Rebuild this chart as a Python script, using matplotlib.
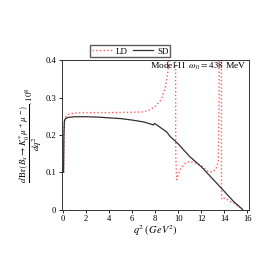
import numpy as np
import matplotlib
matplotlib.use("Agg")
import matplotlib.pyplot as plt

plt.rcParams["font.family"] = ["Liberation Serif", "DejaVu Serif"]
plt.rcParams["mathtext.fontset"] = "stix"

# short-distance curve
sd_q2 = [0.03, 0.06, 0.1, 0.2, 0.4, 1.0, 2.0, 3.0, 4.0, 5.0, 6.0, 7.0, 7.85,
         7.95, 8.5, 9.0, 9.3, 10.0, 11.0, 12.0, 13.0, 14.0, 14.8, 15.5, 15.6]
sd_val = [0.100, 0.200, 0.238, 0.244, 0.247, 0.249, 0.249, 0.248, 0.246, 0.244,
          0.240, 0.235, 0.227, 0.231, 0.219, 0.208, 0.196, 0.176, 0.142, 0.115,
          0.082, 0.049, 0.022, 0.003, 0.0]

# long-distance curve (resonance peaks go off the top)
ld_q2 = [0.03, 0.06, 0.1, 0.2, 0.5, 1.0, 2.0, 4.0, 6.0, 7.0, 7.5, 8.0, 8.5, 8.9,
         9.1, 9.25, 9.5, 9.72, 9.78, 9.86, 10.14, 10.6, 11.0, 11.6, 12.2, 12.6,
         13.0, 13.3, 13.48, 13.55, 13.6, 13.72, 13.76, 13.8, 14.06, 14.5, 14.93,
         15.2, 15.5, 15.6]
ld_val = [0.100, 0.210, 0.235, 0.248, 0.256, 0.259, 0.260, 0.260, 0.261, 0.262,
          0.267, 0.277, 0.294, 0.330, 0.370, 0.420, 1.5, 1.5, 0.15, 0.080,
          0.107, 0.124, 0.129, 0.124, 0.114, 0.102, 0.101, 0.110, 0.130, 0.300,
          1.5, 1.5, 0.050, 0.027, 0.031, 0.022, 0.016, 0.009, 0.003, 0.0]

x_ticks = [0, 2, 4, 6, 8, 10, 12, 14, 16]
y_ticks = [0, 0.1, 0.2, 0.3, 0.4]
y_tick_labels = ["0", "0.1", "0.2", "0.3", "0.4"]

fig = plt.figure(figsize=(2.73, 2.73), dpi=100)
ax = fig.add_axes([0.227, 0.231, 0.685, 0.549])

ax.plot(ld_q2, ld_val, color="#ff5c5c", linestyle=":", linewidth=1.0, label="LD")
ax.plot(sd_q2, sd_val, color="#303030", linestyle="-", linewidth=0.9, label="SD")

ax.set_xlim(-0.11, 16.15)
ax.set_ylim(-0.001, 0.401)
ax.set_xticks(x_ticks)
ax.set_yticks(y_ticks)
ax.set_yticklabels(y_tick_labels)
ax.tick_params(direction="out", length=2.5, width=0.6, labelsize=6.2, pad=1.5,
               top=False, right=False)
for s in ax.spines.values():
    s.set_linewidth(0.7)
    s.set_color("#333333")

ax.set_xlabel(r"$q^2\,(\,GeV^2)$", fontsize=7.5, labelpad=0)
ax.set_ylabel(r"$\dfrac{d\,\mathrm{Br}\left(B_s\to K_0^{*}\,\mu^+\,\mu^-\right)}{dq^2}.10^8$",
              fontsize=6.5, labelpad=1)

ax.text(15.9, 0.385, r"Model-II  $\omega_0 = 438$ MeV", fontsize=6.8,
        ha="right", va="center")

ax.legend(loc="lower center", bbox_to_anchor=(0.365, 1.0), ncol=2, fontsize=6.5,
          frameon=True, fancybox=False, edgecolor="#333333", handlelength=2.2,
          handletextpad=0.5, columnspacing=0.5, borderpad=0.2, borderaxespad=0.3)

fig.savefig("out.png", dpi=100)
